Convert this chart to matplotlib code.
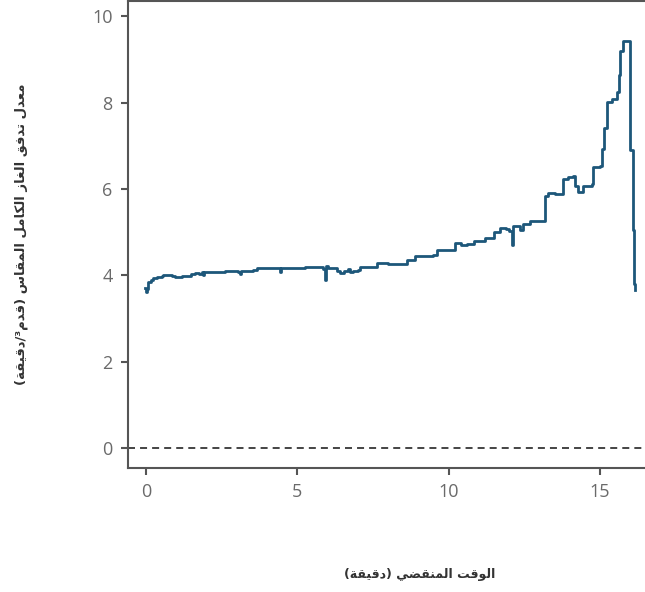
import matplotlib
matplotlib.use("Agg")
import matplotlib.pyplot as plt

# --- data -----------------------------------------------------------------
time_min = [
    -0.03, 0.0, 0.03, 0.06, 0.08, 0.15, 0.24, 0.35, 0.46, 0.52, 0.57, 0.74,
    0.85, 0.96, 1.2, 1.45, 1.5, 1.62, 1.75, 1.84, 1.87, 1.9, 2.2, 2.6, 2.94,
    3.05, 3.1, 3.15, 3.55, 3.66, 4.0, 4.37, 4.42, 4.47, 4.8, 5.25, 5.5, 5.75,
    5.85, 5.91, 5.95, 6.0, 6.19, 6.3, 6.41, 6.55, 6.68, 6.75, 6.85, 7.0, 7.07,
    7.4, 7.62, 8.0, 8.5, 8.61, 8.89, 9.2, 9.49, 9.6, 10.04, 10.21, 10.4, 10.59,
    10.85, 11.2, 11.5, 11.69, 11.9, 12.0, 12.08, 12.14, 12.36, 12.47, 12.69,
    13.13, 13.18, 13.29, 13.5, 13.73, 13.79, 13.95, 14.1, 14.17, 14.28, 14.45,
    14.72, 14.78, 15.0, 15.05, 15.13, 15.22, 15.38, 15.55, 15.63, 15.66, 15.77,
    15.93, 15.99, 16.08, 16.1, 16.12, 16.15,
]
flow_cfm = [
    3.70, 3.62, 3.68, 3.83, 3.85, 3.90, 3.93, 3.95, 3.95, 3.99, 4.01, 4.00,
    3.98, 3.97, 3.98, 3.98, 4.03, 4.05, 4.04, 4.07, 4.00, 4.08, 4.08, 4.09, 4.09,
    4.08, 4.02, 4.10, 4.12, 4.18, 4.17, 4.16, 4.08, 4.17, 4.18, 4.19, 4.20, 4.20,
    4.15, 3.89, 4.22, 4.18, 4.16, 4.10, 4.06, 4.10, 4.14, 4.08, 4.09, 4.12, 4.19,
    4.20, 4.28, 4.27, 4.27, 4.36, 4.44, 4.45, 4.46, 4.58, 4.58, 4.75, 4.70, 4.72,
    4.80, 4.86, 5.00, 5.10, 5.08, 5.02, 4.71, 5.14, 5.06, 5.18, 5.25,
    5.25, 5.84, 5.90, 5.89, 5.88, 6.23, 6.27, 6.31, 6.07, 5.92, 6.07,
    6.11, 6.50, 6.52, 6.93, 7.40, 8.02, 8.08, 8.25, 8.64, 9.19, 9.42,
    9.42, 6.89, 6.77, 5.06, 3.81, 3.66,
]
y_ticks = [0, 2, 4, 6, 8, 10]
x_ticks = [0, 5, 10, 15]

XLABEL = "الوقت المنقضي (دقيقة)"
YLABEL = "معدل تدفق الغاز الكامل المقاس (قدم³/دقيقة)"

# --- tiny Arabic shaper (matplotlib has no shaping / bidi) ----------------
# (isolated, final, initial, medial); right-joining letters have no initial/medial
FORMS = {
    "ا": (0xFE8D, 0xFE8E, None, None), "ب": (0xFE8F, 0xFE90, 0xFE91, 0xFE92),
    "ة": (0xFE93, 0xFE94, None, None), "ت": (0xFE95, 0xFE96, 0xFE97, 0xFE98),
    "د": (0xFEA9, 0xFEAA, None, None), "ر": (0xFEAD, 0xFEAE, None, None),
    "ز": (0xFEAF, 0xFEB0, None, None), "س": (0xFEB1, 0xFEB2, 0xFEB3, 0xFEB4),
    "ض": (0xFEBD, 0xFEBE, 0xFEBF, 0xFEC0), "ع": (0xFEC9, 0xFECA, 0xFECB, 0xFECC),
    "غ": (0xFECD, 0xFECE, 0xFECF, 0xFED0), "ف": (0xFED1, 0xFED2, 0xFED3, 0xFED4),
    "ق": (0xFED5, 0xFED6, 0xFED7, 0xFED8), "ك": (0xFED9, 0xFEDA, 0xFEDB, 0xFEDC),
    "ل": (0xFEDD, 0xFEDE, 0xFEDF, 0xFEE0), "م": (0xFEE1, 0xFEE2, 0xFEE3, 0xFEE4),
    "ن": (0xFEE5, 0xFEE6, 0xFEE7, 0xFEE8), "و": (0xFEED, 0xFEEE, None, None),
    "ي": (0xFEF1, 0xFEF2, 0xFEF3, 0xFEF4),
}


def shape_ar(s):
    out = []
    for i, ch in enumerate(s):
        if ch not in FORMS:
            out.append(ch)
            continue
        prev = s[i - 1] if i > 0 else ""
        nxt = s[i + 1] if i + 1 < len(s) else ""
        join_prev = prev in FORMS and FORMS[prev][2] is not None
        join_next = FORMS[ch][2] is not None and nxt in FORMS
        iso, fin, ini, med = FORMS[ch]
        if join_prev and join_next:
            code = med
        elif join_prev:
            code = fin
        elif join_next:
            code = ini
        else:
            code = iso
        out.append(chr(code))
    vis = "".join(reversed(out))
    return vis.translate(str.maketrans("()", ")("))


# --- plot ------------------------------------------------------------------
W, H = 645, 592
fig = plt.figure(figsize=(W / 100, H / 100), dpi=100)
# right edge of the axes runs past the figure, as in the reference
ax = fig.add_axes([128 / W, 124 / H, 584 / W, 467 / H])

ax.plot(time_min, flow_cfm, color="#1d577a", lw=2.0, drawstyle="steps-post",
        solid_joinstyle="round", zorder=3)
ax.axhline(0, color="#444444", lw=1.4, ls=(0, (3.6, 2.6)), zorder=2)

ax.set_xlim(-0.595, 18.7)
ax.set_ylim(-0.46, 10.35)
ax.set_xticks(x_ticks)
ax.set_yticks(y_ticks)

for side in ("left", "bottom", "top", "right"):
    ax.spines[side].set_color("#555555")
    ax.spines[side].set_linewidth(1.5)
ax.tick_params(axis="both", direction="out", length=5, width=1.5,
               color="#555555", labelcolor="#6a6a6a", labelsize=13, pad=6)
for lab in ax.get_xticklabels() + ax.get_yticklabels():
    lab.set_family("Open Sans")

ax.set_xlabel(shape_ar(XLABEL), fontsize=9, fontweight="bold",
              family="DejaVu Sans", color="#333333", va="center")
ax.xaxis.set_label_coords(0.5, -0.229)
ax.set_ylabel(shape_ar(YLABEL), fontsize=9.5, fontweight="bold",
              family="DejaVu Sans", color="#333333", va="center")
ax.yaxis.set_label_coords(-0.183, 0.5)

fig.savefig("out.png", dpi=100)
